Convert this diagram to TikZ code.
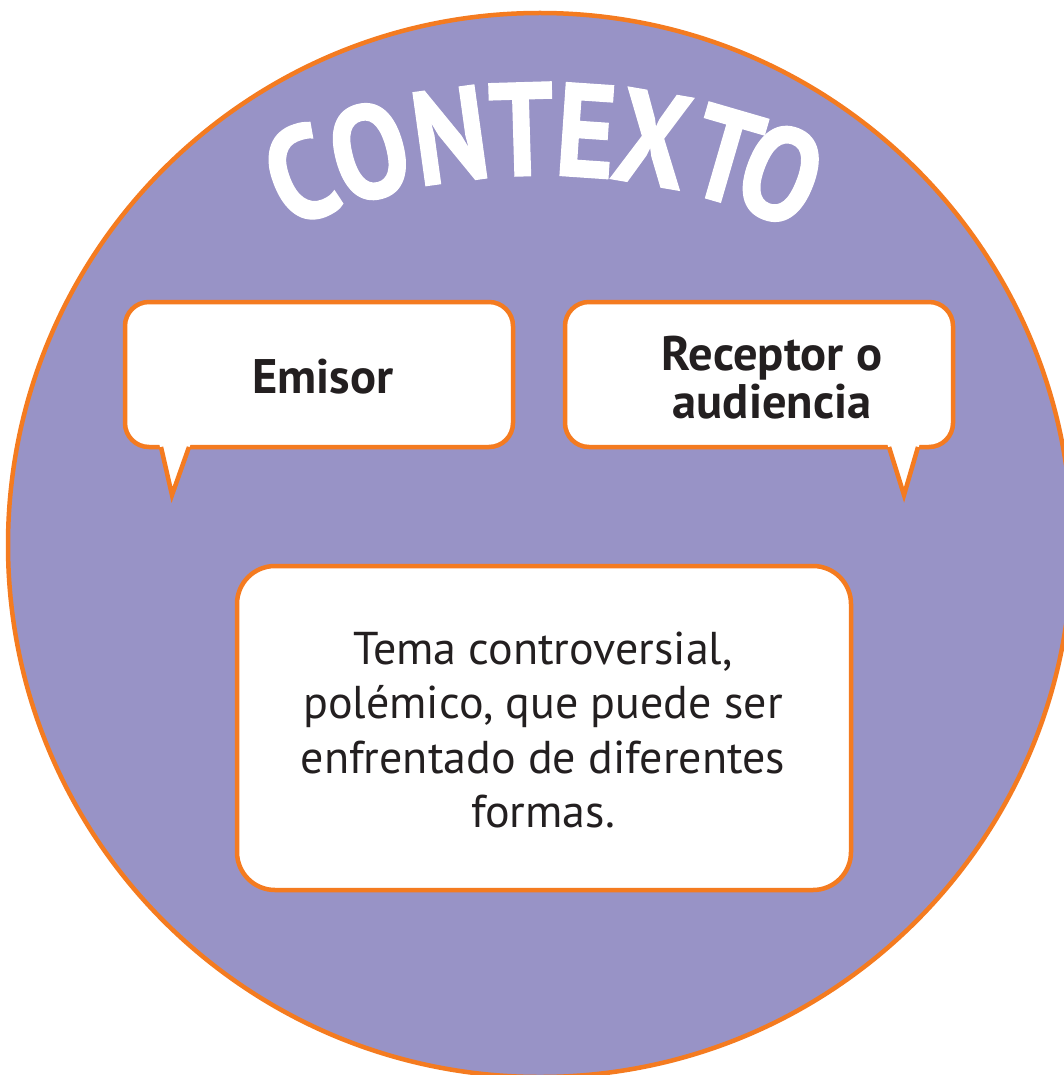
\documentclass[tikz,border=0pt]{standalone}
\usepackage{fontspec}
\usepackage{graphicx}
\setmainfont{PT Sans}
\newfontfamily\titlefont{PT Sans Bold}[FakeBold=1.0]
\definecolor{lila}{HTML}{9893C6}
\definecolor{naranja}{HTML}{F47B20}
\definecolor{tinta}{HTML}{231F20}
\begin{document}
\begin{tikzpicture}[x=1pt,y=-1pt,
  bubble/.style={fill=white,draw=naranja,line width=4.5pt,line join=round},
  tailline/.style={draw=naranja,line width=4.5pt,line join=miter},
  titleletter/.style={text=white,font=\titlefont\fontsize{133}{133}\selectfont,inner sep=0pt},
  labeltext/.style={text=tinta,font=\bfseries\fontsize{48.5}{48}\selectfont,align=center,inner sep=0pt},
  bodytext/.style={text=tinta,font=\fontsize{46}{54.5}\selectfont,align=center,inner sep=0pt}]
\useasboundingbox (0,0) rectangle (1064,1075);
\begin{scope}
\clip (0,0) rectangle (1064,1075);
\fill[lila] (540,545) circle[radius=532pt];
\draw[naranja,line width=4.5pt] (540,545) circle[radius=532pt];
\end{scope}
% title letters on an arc
\foreach \a/\l/\n in {-21.3/C/c1,-15.0/O/c2,-7.9/N/c3,-1.7/T/c4,3.9/E/c5,9.7/X/c6,16.2/T/c7,21.2/O/c8}
  \node[titleletter,rotate=-\a] (\n) at ({541+663*sin(\a)},{792-663*cos(\a)}) {\scalebox{0.86}[1]{\l}};
% Emisor bubble
\path[bubble,rounded corners=24pt] (125,302) rectangle (513,447);
\fill[white] (159,443) -- (172,495) -- (191,443) -- cycle;
\draw[tailline] (161,447) -- (172,495) -- (189,447);
\node[labeltext,anchor=base] (emisor) at (323,393) {Emisor};
% Receptor bubble
\path[bubble,rounded corners=24pt] (565,302) rectangle (953,447);
\fill[white] (887,443) -- (904,495) -- (920,443) -- cycle;
\draw[tailline] (889,447) -- (904,495) -- (918,447);
\node[labeltext] (receptor) at (772,378) {Receptor o\\audiencia};
% Tema box
\draw[bubble,rounded corners=38pt] (237,566) rectangle (851,890);
\node[bodytext] (tema) at (543,730) {Tema controversial,\\polémico, que puede ser\\enfrentado de diferentes\\formas.};
\end{tikzpicture}
\end{document}
